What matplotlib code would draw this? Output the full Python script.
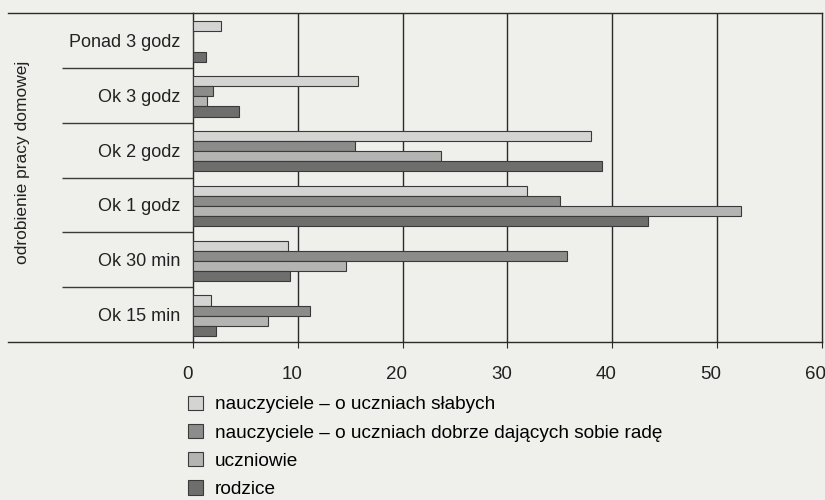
import matplotlib.pyplot as plt
import matplotlib.transforms as mtransforms
import numpy as np
from matplotlib.patches import Patch

categories = ['Ponad 3 godz', 'Ok 3 godz', 'Ok 2 godz', 'Ok 1 godz', 'Ok 30 min', 'Ok 15 min']
series_names = [
    'nauczyciele \u2013 o uczniach słabych',
    'nauczyciele \u2013 o uczniach dobrze dających sobie radę',
    'uczniowie',
    'rodzice',
]
slabi = [2.7, 15.7, 38.0, 31.9, 9.1, 1.7]
dobrzy = [0.0, 1.9, 15.5, 35.0, 35.7, 11.2]
uczniowie = [0.0, 1.3, 23.7, 52.3, 14.6, 7.2]
rodzice = [1.2, 4.4, 39.0, 43.4, 9.3, 2.2]
x_ticks = [0, 10, 20, 30, 40, 50, 60]

colors = ['#d4d4d2', '#8c8c8a', '#b4b4b2', '#6e6e6c']
bg = '#efefec'

plt.rcParams['font.family'] = ['Liberation Sans', 'DejaVu Sans']

fig = plt.figure(figsize=(8.25, 5), dpi=100, facecolor=bg)
ax = fig.add_axes([0.234, 0.316, 0.762, 0.658], facecolor=bg)

data = [slabi, dobrzy, uczniowie, rodzice]
y = np.arange(len(categories))
h = 0.185
for k, (vals, name, c) in enumerate(zip(data, series_names, colors)):
    ax.barh(y + (k - 1.5) * h + 0.02, vals, height=h, color=c,
            edgecolor='#3a3a3a', linewidth=0.8, label=name, zorder=3)

ax.set_xlim(0, 60)
ax.set_ylim(len(categories) - 0.5, -0.5)

# vertical grid lines
for v in x_ticks[1:-1]:
    ax.axvline(v, color='#2a2a2a', linewidth=1.0, zorder=2)

for s in ['top', 'right', 'bottom', 'left']:
    ax.spines[s].set_color('#2a2a2a')
    ax.spines[s].set_linewidth(1.0)

ax.set_xticks(x_ticks)
ax.set_xticklabels([str(t) for t in x_ticks], fontsize=13.5, color='#222222')
ax.tick_params(axis='x', direction='out', length=4, pad=13, color='#2a2a2a')
shift = mtransforms.ScaledTranslation(-6 / 100, 0, fig.dpi_scale_trans)
for lab in ax.get_xticklabels():
    lab.set_transform(lab.get_transform() + shift)

ax.set_yticks(y)
ax.set_yticklabels(categories, fontsize=13, color='#222222')
ax.tick_params(axis='y', which='major', length=0, pad=9)
ax.set_yticks(np.arange(0.5, len(categories) - 1, 1.0), minor=True)
ax.tick_params(axis='y', which='minor', direction='out', length=94,
               width=1.0, color='#3a3a3a')

# long lines at the top and bottom of the category column
trans = ax.get_yaxis_transform()
for yy in [-0.5, len(categories) - 0.5]:
    ax.plot([-0.295, 0], [yy, yy], transform=trans, color='#2a2a2a',
            linewidth=1.0, clip_on=False)

fig.text(0.027, 0.675, 'odrobienie pracy domowej', rotation=90,
         ha='center', va='center', fontsize=12.5, color='#222222')

handles = [Patch(facecolor=c, edgecolor='#3a3a3a', linewidth=0.8) for c in colors]
fig.legend(handles, series_names, loc='upper left',
           bbox_to_anchor=(0.228, 0.209), frameon=False, fontsize=13.7,
           handlelength=0.8, handleheight=0.8, handletextpad=0.6,
           labelspacing=0.54, borderpad=0, borderaxespad=0)

fig.savefig('out.png', dpi=100, facecolor=bg)
